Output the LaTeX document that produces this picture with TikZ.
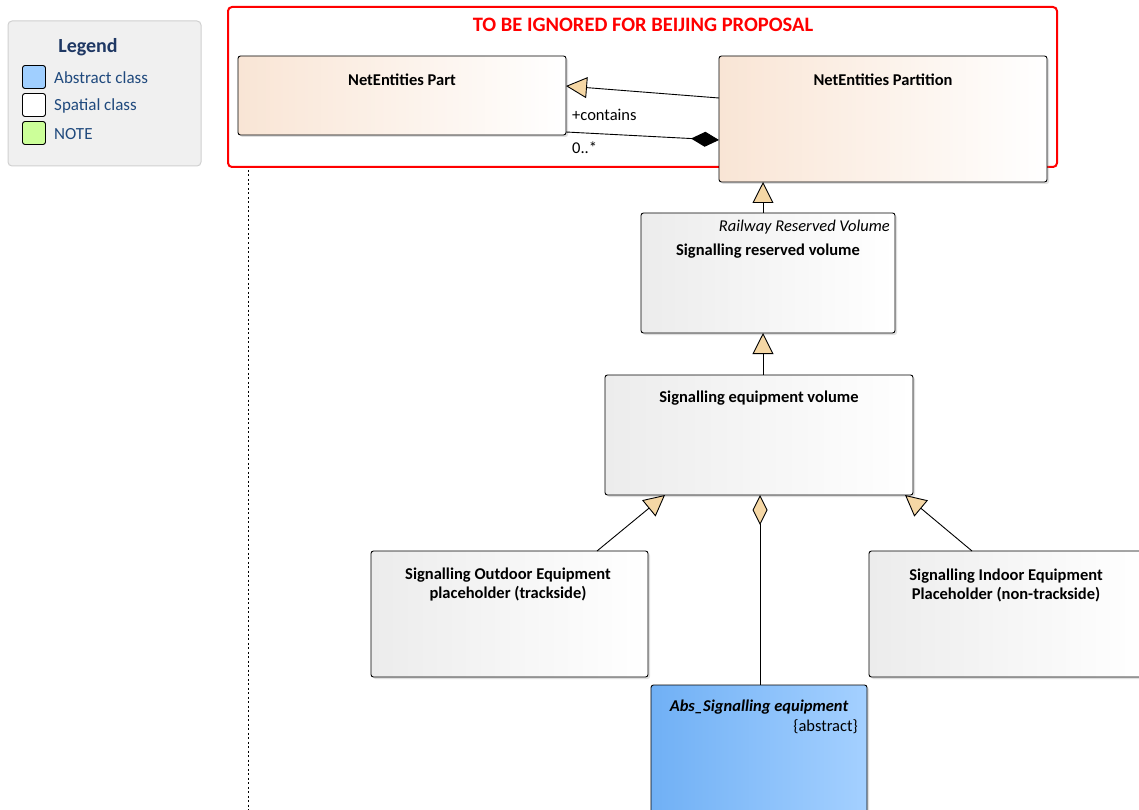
\documentclass[tikz,border=0pt]{standalone}
\usepackage{fontspec}
\setmainfont{Carlito}
\usetikzlibrary{positioning, arrows.meta, shadows}
\definecolor{peachL}{RGB}{249,229,213}
\definecolor{greyL}{RGB}{236,236,236}
\definecolor{blueL}{RGB}{112,176,245}
\definecolor{blueR}{RGB}{164,208,255}
\definecolor{tanfill}{RGB}{245,215,165}
\definecolor{legendfill}{RGB}{240,240,240}
\definecolor{legendline}{RGB}{208,208,208}
\definecolor{navy}{RGB}{31,56,100}
\definecolor{legendtext}{RGB}{31,73,125}
\definecolor{notegreen}{RGB}{204,255,153}
\definecolor{absblue}{RGB}{160,207,255}
\definecolor{ignorered}{RGB}{255,0,0}

\begin{document}
\begin{tikzpicture}[x=1pt, y=-1pt,
  classbox/.style={rectangle, draw, rounded corners=2.5pt, line width=0.9pt, inner sep=0pt, outer sep=0pt,
    drop shadow={opacity=0.25, shadow xshift=2pt, shadow yshift=-2pt}},
  netbox/.style={classbox, shading=axis, left color=peachL, right color=white, shading angle=90},
  spatialbox/.style={classbox, left color=greyL, right color=white},
  absbox/.style={classbox, left color=blueL, right color=blueR},
  classname/.style={font=\fontsize{16.5}{19}\selectfont\bfseries, align=center, inner sep=0pt},
  plaintext/.style={font=\fontsize{16.5}{19}\selectfont, inner sep=0pt},
  gen/.style={-{Triangle[length=21pt, width=21pt, fill=tanfill, line width=0.9pt]}, line width=0.9pt},
  swatch/.style={rectangle, draw, line width=0.9pt, rounded corners=2.5pt, minimum width=23pt, minimum height=23pt, inner sep=0pt},
  legendlabel/.style={anchor=west, font=\fontsize{17}{20}\selectfont, text=legendtext, inner sep=0pt}]

\useasboundingbox (0,0) rectangle (1139,810);

% Legend
\node[rectangle, draw=legendline, fill=legendfill, line width=1pt, rounded corners=4pt, minimum width=193pt, minimum height=145pt] (legend) at (104.5,93.5) {};
\node[font=\fontsize{20}{24}\selectfont\bfseries, text=navy] (legendtitle) at (88,47) {Legend};
\node[swatch, fill=absblue] (swabs) at (34,77) {};
\node[swatch, fill=white] (swspatial) at (34,105) {};
\node[swatch, fill=notegreen] (swnote) at (34,133) {};
\node[legendlabel] (lababs) at (54,78) {Abstract class};
\node[legendlabel] (labspatial) at (54,106) {Spatial class};
\node[legendlabel] (labnote) at (54,134) {NOTE};

% Red frame
\node[rectangle, draw=ignorered, line width=2pt, rounded corners=4pt, minimum width=829pt, minimum height=160pt] (ignore) at (642.5,87) {};
\node[font=\fontsize{20.5}{24}\selectfont\bfseries, text=ignorered] (ignoretitle) at (643,25) {TO BE IGNORED FOR BEIJING PROPOSAL};

% Dotted line
\coordinate (dottop) at (248,170);
\coordinate (dotbot) at (248,810);
\draw[line width=0.8pt, dash pattern=on 2pt off 2.5pt] (dottop) -- (dotbot);

% Classes
\node[netbox, minimum width=328pt, minimum height=79pt] (part) at (402,95.5) {};
\node[classname] (parttitle) at (402,80) {NetEntities Part};

\node[netbox, minimum width=328pt, minimum height=126pt] (partition) at (883,119) {};
\node[classname] (partitiontitle) at (883,80) {NetEntities Partition};

\node[spatialbox, minimum width=254pt, minimum height=120pt] (reserved) at (768,273) {};
\node[plaintext, font=\fontsize{16.5}{19}\selectfont\itshape, anchor=east] (reservedstereo) at (890,227) {Railway Reserved Volume};
\node[classname] (reservedtitle) at (768,251) {Signalling reserved volume};

\node[spatialbox, minimum width=308pt, minimum height=120pt] (eqvol) at (759,435) {};
\node[classname] (eqvoltitle) at (759,398) {Signalling equipment volume};

\node[spatialbox, minimum width=277pt, minimum height=126pt] (outdoor) at (509.5,614) {};
\node[classname] (outdoortitle) at (508,585) {Signalling Outdoor Equipment\\placeholder (trackside)};

\node[spatialbox, minimum width=277pt, minimum height=126pt] (indoor) at (1007.5,614) {};
\node[classname] (indoortitle) at (1006,585) {Signalling Indoor Equipment\\Placeholder (non-trackside)};

\node[absbox, minimum width=216pt, minimum height=130pt] (abs) at (759,750) {};
\node[classname, font=\fontsize{16.5}{19}\selectfont\bfseries\itshape] (abstitle) at (759,707) {Abs\_Signalling equipment};
\node[plaintext, anchor=east] (absstereo) at (858,727) {\{abstract\}};

% Connectors
\draw[gen] ([yshift=21pt]partition.west) -- ([yshift=9.5pt]part.east);
\node[plaintext, anchor=west] (contains) at (572,115) {+contains};
\draw[line width=0.9pt, -{Diamond[length=28pt, width=15pt, fill=black]}] ([yshift=-36.5pt]part.east) -- ([yshift=-21pt]partition.west);
\node[plaintext, anchor=west] (mult) at (572,148) {0..*};

\draw[gen] ([xshift=-5pt]reserved.north) -- ([xshift=-120pt]partition.south);
\draw[gen] ([xshift=4pt]eqvol.north) -- ([xshift=-5pt]reserved.south);
\draw[gen] ([xshift=87.5pt]outdoor.north) -- ([xshift=-94pt]eqvol.south);
\draw[gen] ([xshift=-35.5pt]indoor.north) -- ([xshift=146pt]eqvol.south);
\draw[line width=0.9pt, {Diamond[length=30pt, width=15pt, fill=tanfill]}-] ([xshift=1pt]eqvol.south) -- ([xshift=1pt]abs.north);

\end{tikzpicture}
\end{document}
